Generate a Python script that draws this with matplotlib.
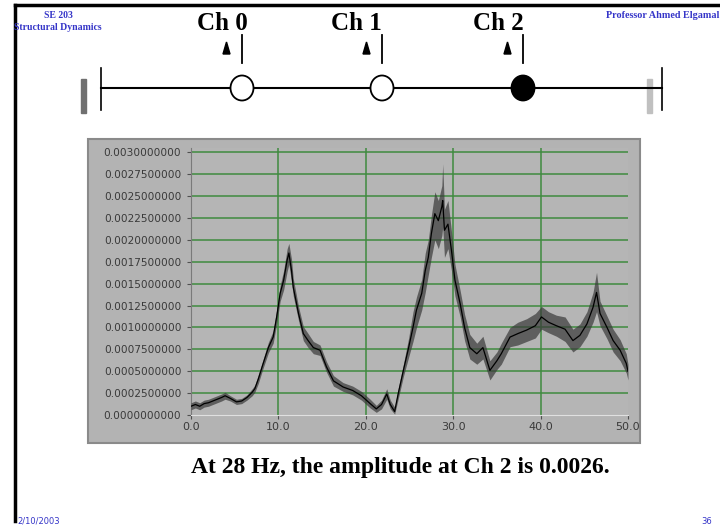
import matplotlib
matplotlib.use("Agg")
import matplotlib.pyplot as plt
from matplotlib.patches import Rectangle, Ellipse, Polygon
from matplotlib.ticker import FixedLocator

# spectrum at Ch 2 (Hz, amplitude)
freq = [0.0, 0.5, 1.0, 1.5, 2.0, 2.5, 3.0, 3.5, 3.9, 4.5, 5.2, 5.8, 6.4, 7.0, 7.3,
        7.7, 8.2, 8.85, 9.4, 9.8, 10.2, 10.6, 11.0, 11.2, 11.5, 11.7, 12.3, 12.85,
        13.4, 14.0, 14.76, 15.5, 16.3, 17.4, 18.5, 19.5, 20.5, 21.2, 21.8, 22.4,
        22.8, 23.3, 23.7, 24.3, 24.9, 25.4, 25.8, 26.4, 26.8, 27.15, 27.5, 27.9,
        28.3, 28.7, 28.8, 29.0, 29.4, 29.8, 30.2, 30.8, 31.3, 31.9, 32.7, 33.4,
        34.2, 35.0, 35.5, 36.5, 37.4, 38.4, 39.4, 40.1, 40.9, 41.8, 42.8, 43.7,
        44.5, 45.3, 46.0, 46.4, 46.8, 47.6, 48.3, 49.1, 49.8, 50.0]
amp = [0.00010, 0.00012, 0.00010, 0.00013, 0.00014, 0.00016, 0.00018, 0.00020,
       0.00022, 0.00019, 0.00015, 0.00016, 0.00020, 0.00026, 0.00030, 0.00041,
       0.00057, 0.00077, 0.00089, 0.00112, 0.00139, 0.00154, 0.00177, 0.00185,
       0.00165, 0.00146, 0.00116, 0.00093, 0.00085, 0.00077, 0.00074, 0.00055,
       0.00039, 0.00032, 0.00028, 0.00022, 0.00013, 0.00007, 0.00012, 0.00024,
       0.00012, 0.00004, 0.00024, 0.00051, 0.00077, 0.00100, 0.00120, 0.00139,
       0.00165, 0.00180, 0.00207, 0.00230, 0.00222, 0.00238, 0.00245, 0.00211,
       0.00218, 0.00188, 0.00154, 0.00127, 0.00100, 0.00077, 0.00070, 0.00077,
       0.00051, 0.00062, 0.00070, 0.00089, 0.00093, 0.00097, 0.00102, 0.00112,
       0.00106, 0.00102, 0.00098, 0.00085, 0.00091, 0.00104, 0.00123, 0.00140,
       0.00116, 0.00100, 0.00085, 0.00074, 0.00059, 0.00050]
# upper / lower edge of the noisy trace
amp_hi = [0.00014, 0.00016, 0.00014, 0.00017, 0.00018, 0.00020, 0.00022, 0.00024,
          0.00026, 0.00022, 0.00018, 0.00019, 0.00023, 0.00030, 0.00034, 0.00046,
          0.00062, 0.00083, 0.00096, 0.00120, 0.00148, 0.00165, 0.00190, 0.00196,
          0.00178, 0.00156, 0.00124, 0.00101, 0.00093, 0.00084, 0.00080, 0.00061,
          0.00045, 0.00037, 0.00033, 0.00027, 0.00018, 0.00011, 0.00017, 0.00030,
          0.00017, 0.00009, 0.00030, 0.00058, 0.00088, 0.00118, 0.00135, 0.00155,
          0.00185, 0.00200, 0.00228, 0.00255, 0.00245, 0.00262, 0.00287, 0.00235,
          0.00245, 0.00210, 0.00172, 0.00142, 0.00115, 0.00092, 0.00082, 0.00090,
          0.00062, 0.00072, 0.00082, 0.00100, 0.00106, 0.00110, 0.00116, 0.00124,
          0.00118, 0.00114, 0.00112, 0.00098, 0.00104, 0.00118, 0.00140, 0.00163,
          0.00130, 0.00113, 0.00098, 0.00086, 0.00070, 0.00058]
amp_lo = [0.00006, 0.00008, 0.00006, 0.00009, 0.00010, 0.00012, 0.00014, 0.00016,
          0.00018, 0.00016, 0.00012, 0.00013, 0.00017, 0.00022, 0.00026, 0.00036,
          0.00052, 0.00071, 0.00082, 0.00104, 0.00130, 0.00143, 0.00164, 0.00172,
          0.00152, 0.00136, 0.00108, 0.00085, 0.00077, 0.00070, 0.00068, 0.00049,
          0.00033, 0.00027, 0.00023, 0.00017, 0.00008, 0.00003, 0.00007, 0.00018,
          0.00007, 0.00001, 0.00018, 0.00044, 0.00066, 0.00084, 0.00100, 0.00120,
          0.00140, 0.00160, 0.00180, 0.00200, 0.00190, 0.00205, 0.00215, 0.00180,
          0.00190, 0.00165, 0.00136, 0.00112, 0.00085, 0.00064, 0.00058, 0.00064,
          0.00040, 0.00052, 0.00058, 0.00078, 0.00080, 0.00084, 0.00088, 0.00098,
          0.00094, 0.00090, 0.00084, 0.00072, 0.00078, 0.00090, 0.00106, 0.00118,
          0.00102, 0.00087, 0.00072, 0.00062, 0.00048, 0.00040]

y_ticks = [i * 0.00025 for i in range(13)]
x_ticks = [0.0, 10.0, 20.0, 30.0, 40.0, 50.0]
channels = ["Ch 0", "Ch 1", "Ch 2"]
active = [False, False, True]

W, H = 720, 527
fig = plt.figure(figsize=(W / 100, H / 100), dpi=100)
fig.patch.set_facecolor("white")

# overlay in pixel coordinates for the slide decoration
ov = fig.add_axes([0, 0, 1, 1])
ov.set_xlim(0, W)
ov.set_ylim(H, 0)
ov.axis("off")

blue = "#3535c8"
serif = "Liberation Serif"

# slide border
ov.plot([15, W], [5, 5], color="black", lw=2.5)
ov.plot([15, 15], [5, 521], color="black", lw=2.5)

ov.text(58, 15, "SE 203", family=serif, weight="bold", fontsize=7,
        color=blue, ha="center", va="center")
ov.text(58, 27, "Structural Dynamics", family=serif, weight="bold", fontsize=7,
        color=blue, ha="center", va="center")
ov.text(606, 16, "Professor Ahmed Elgamal", family=serif, weight="bold",
        fontsize=7.3, color=blue, ha="left", va="center")

# beam with sensors
ov.plot([101, 662], [88, 88], color="black", lw=1.5)
ov.plot([101, 101], [68, 110], color="black", lw=1.2)
ov.plot([662, 662], [68, 110], color="black", lw=1.2)
ov.add_patch(Rectangle((81, 79), 5, 34, color="#707070"))
ov.add_patch(Rectangle((647, 79), 5, 34, color="#c0c0c0"))

sensor_x = [242, 382, 523]
label_x = [222, 356, 498]
for name, sx, lx, on in zip(channels, sensor_x, label_x, active):
    ov.text(lx, 24, name, family=serif, weight="bold", fontsize=18,
            ha="center", va="center")
    ov.plot([sx, sx], [35, 63], color="black", lw=1.3)
    ov.add_patch(Polygon([[sx - 19, 54], [sx - 12, 54], [sx - 15.5, 42]],
                         closed=True, color="black"))
    ov.add_patch(Ellipse((sx, 88), 23, 25, facecolor="black" if on else "white",
                         edgecolor="black", lw=1.3, zorder=3))

# instrument panel behind the graph
ov.add_patch(Rectangle((88, 139), 552, 304, facecolor="#b3b3b3",
                       edgecolor="#8a8a8a", lw=1.5))

ov.text(400, 468, "At 28 Hz, the amplitude at Ch 2 is 0.0026.", family=serif,
        weight="bold", fontsize=17, ha="center", va="center")
ov.text(17, 521, "2/10/2003", family="Liberation Sans Narrow", fontsize=6,
        color=blue, ha="left", va="center")
ov.text(712, 521, "36", family="Liberation Sans Narrow", fontsize=6,
        color=blue, ha="right", va="center")

# graph
ax = fig.add_axes([191 / W, 1 - 415 / H, 437 / W, 267 / H])
ax.set_facecolor("#b5b5b5")
ax.set_xlim(0, 50)
ax.set_ylim(0, 0.00305)

ax.fill_between(freq, amp_lo, amp_hi, color="#3a3a3a", lw=0, alpha=0.7, zorder=3)
ax.plot(freq, amp, color="black", lw=0.9, zorder=4)

ax.yaxis.set_major_locator(FixedLocator(y_ticks))
ax.xaxis.set_major_locator(FixedLocator(x_ticks))
ax.set_yticklabels(["%.10f" % v for v in y_ticks])
ax.set_xticklabels(["%.1f" % v for v in x_ticks])
ax.tick_params(axis="y", length=3, color="#505050", labelsize=7.6,
               labelcolor="#3a3a3a", pad=4)
ax.tick_params(axis="x", length=3, color="#505050", labelsize=8,
               labelcolor="#3a3a3a", pad=2)

for v in y_ticks[1:]:
    ax.axhline(v, color="#3f8a3f", lw=1.1, zorder=1)
for v in x_ticks[1:-1]:
    ax.axvline(v, color="#3f8a3f", lw=1.1, zorder=1)

for s in ["top", "right"]:
    ax.spines[s].set_visible(False)
ax.spines["left"].set_color("#7a7a7a")
ax.spines["bottom"].set_color("#e0e0e0")

fig.savefig("out.png", dpi=100)
